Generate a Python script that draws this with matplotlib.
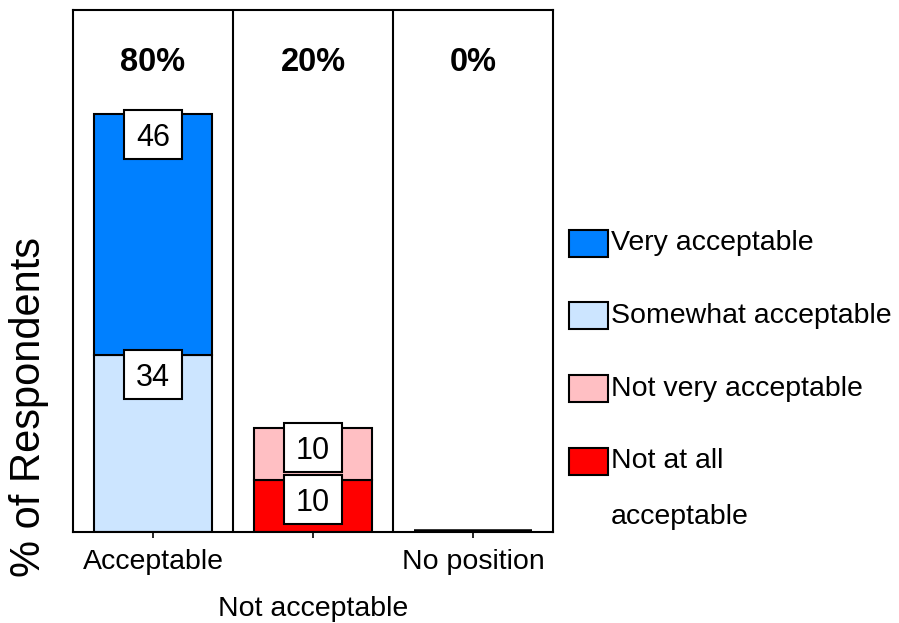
import matplotlib.pyplot as plt
from matplotlib.patches import Rectangle

plt.rcParams['font.family'] = ['Liberation Sans', 'DejaVu Sans']

groups = ["Acceptable", "Not acceptable", "No position"]
series = ["Very acceptable", "Somewhat acceptable", "Not very acceptable", "Not at all\nacceptable"]
colors = ["#0080FF", "#CCE5FF", "#FFBFC3", "#FF0000"]

# stacking order bottom -> top for each group
stacks = {
    "Acceptable": [("Somewhat acceptable", 34), ("Very acceptable", 46)],
    "Not acceptable": [("Not at all\nacceptable", 10), ("Not very acceptable", 10)],
    "No position": [],
}

W, H = 899, 623
fig = plt.figure(figsize=(W / 100, H / 100), dpi=100)
ax = fig.add_axes([73 / W, (H - 532) / H, 480 / W, 522 / H])

color_of = dict(zip(series, colors))
bar_w = 0.74
box_w, box_h = 0.36, 9.4  # value label boxes, data units

for i, g in enumerate(groups):
    bottom = 0
    for name, val in stacks[g]:
        ax.bar(i, val, bar_w, bottom=bottom, color=color_of[name],
               edgecolor="black", linewidth=1.5, zorder=2)
        yc = bottom + val - 3.8
        ax.add_patch(Rectangle((i - box_w / 2, yc - box_h / 2), box_w, box_h,
                               fc="white", ec="black", lw=1.5, zorder=3))
        ax.text(i, yc, str(val), ha="center", va="center_baseline",
                fontsize=22, zorder=4)
        bottom += val
    if not stacks[g]:
        ax.bar(i, 0, bar_w, color="white", edgecolor="black", linewidth=4, zorder=2)
    ax.text(i, 90, f"{bottom}%", ha="center", va="center",
            fontsize=23.5, fontweight="bold")

for x in (0.5, 1.5):
    ax.axvline(x, color="black", lw=1.5, zorder=1)

ax.set_xlim(-0.5, 2.5)
ax.set_ylim(0, 100)
ax.set_yticks([])
ax.set_xticks(range(len(groups)))
ax.set_xticklabels(groups, fontsize=20.5)
ax.tick_params(axis="x", length=4, width=1.2, pad=8)
ax.xaxis.get_major_ticks()[1].set_pad(42)
for s in ax.spines.values():
    s.set_linewidth(1.5)

ax.text(-0.092, 0.24, "% of Respondents", transform=ax.transAxes,
        rotation=90, ha="center", va="center", fontsize=30)

# legend on the right
for k, (name, c) in enumerate(zip(series, colors)):
    yc = 243 + k * 72.8
    fig.add_artist(Rectangle((569 / W, (H - yc - 13.5) / H), 39 / W, 27 / H,
                             transform=fig.transFigure, fc=c, ec="black", lw=1.5))
    for j, line in enumerate(name.split("\n")):
        fig.text(611 / W, (H - yc - j * 56) / H, line, ha="left", va="center",
                 fontsize=20.5)

fig.savefig("out.png", dpi=100)
